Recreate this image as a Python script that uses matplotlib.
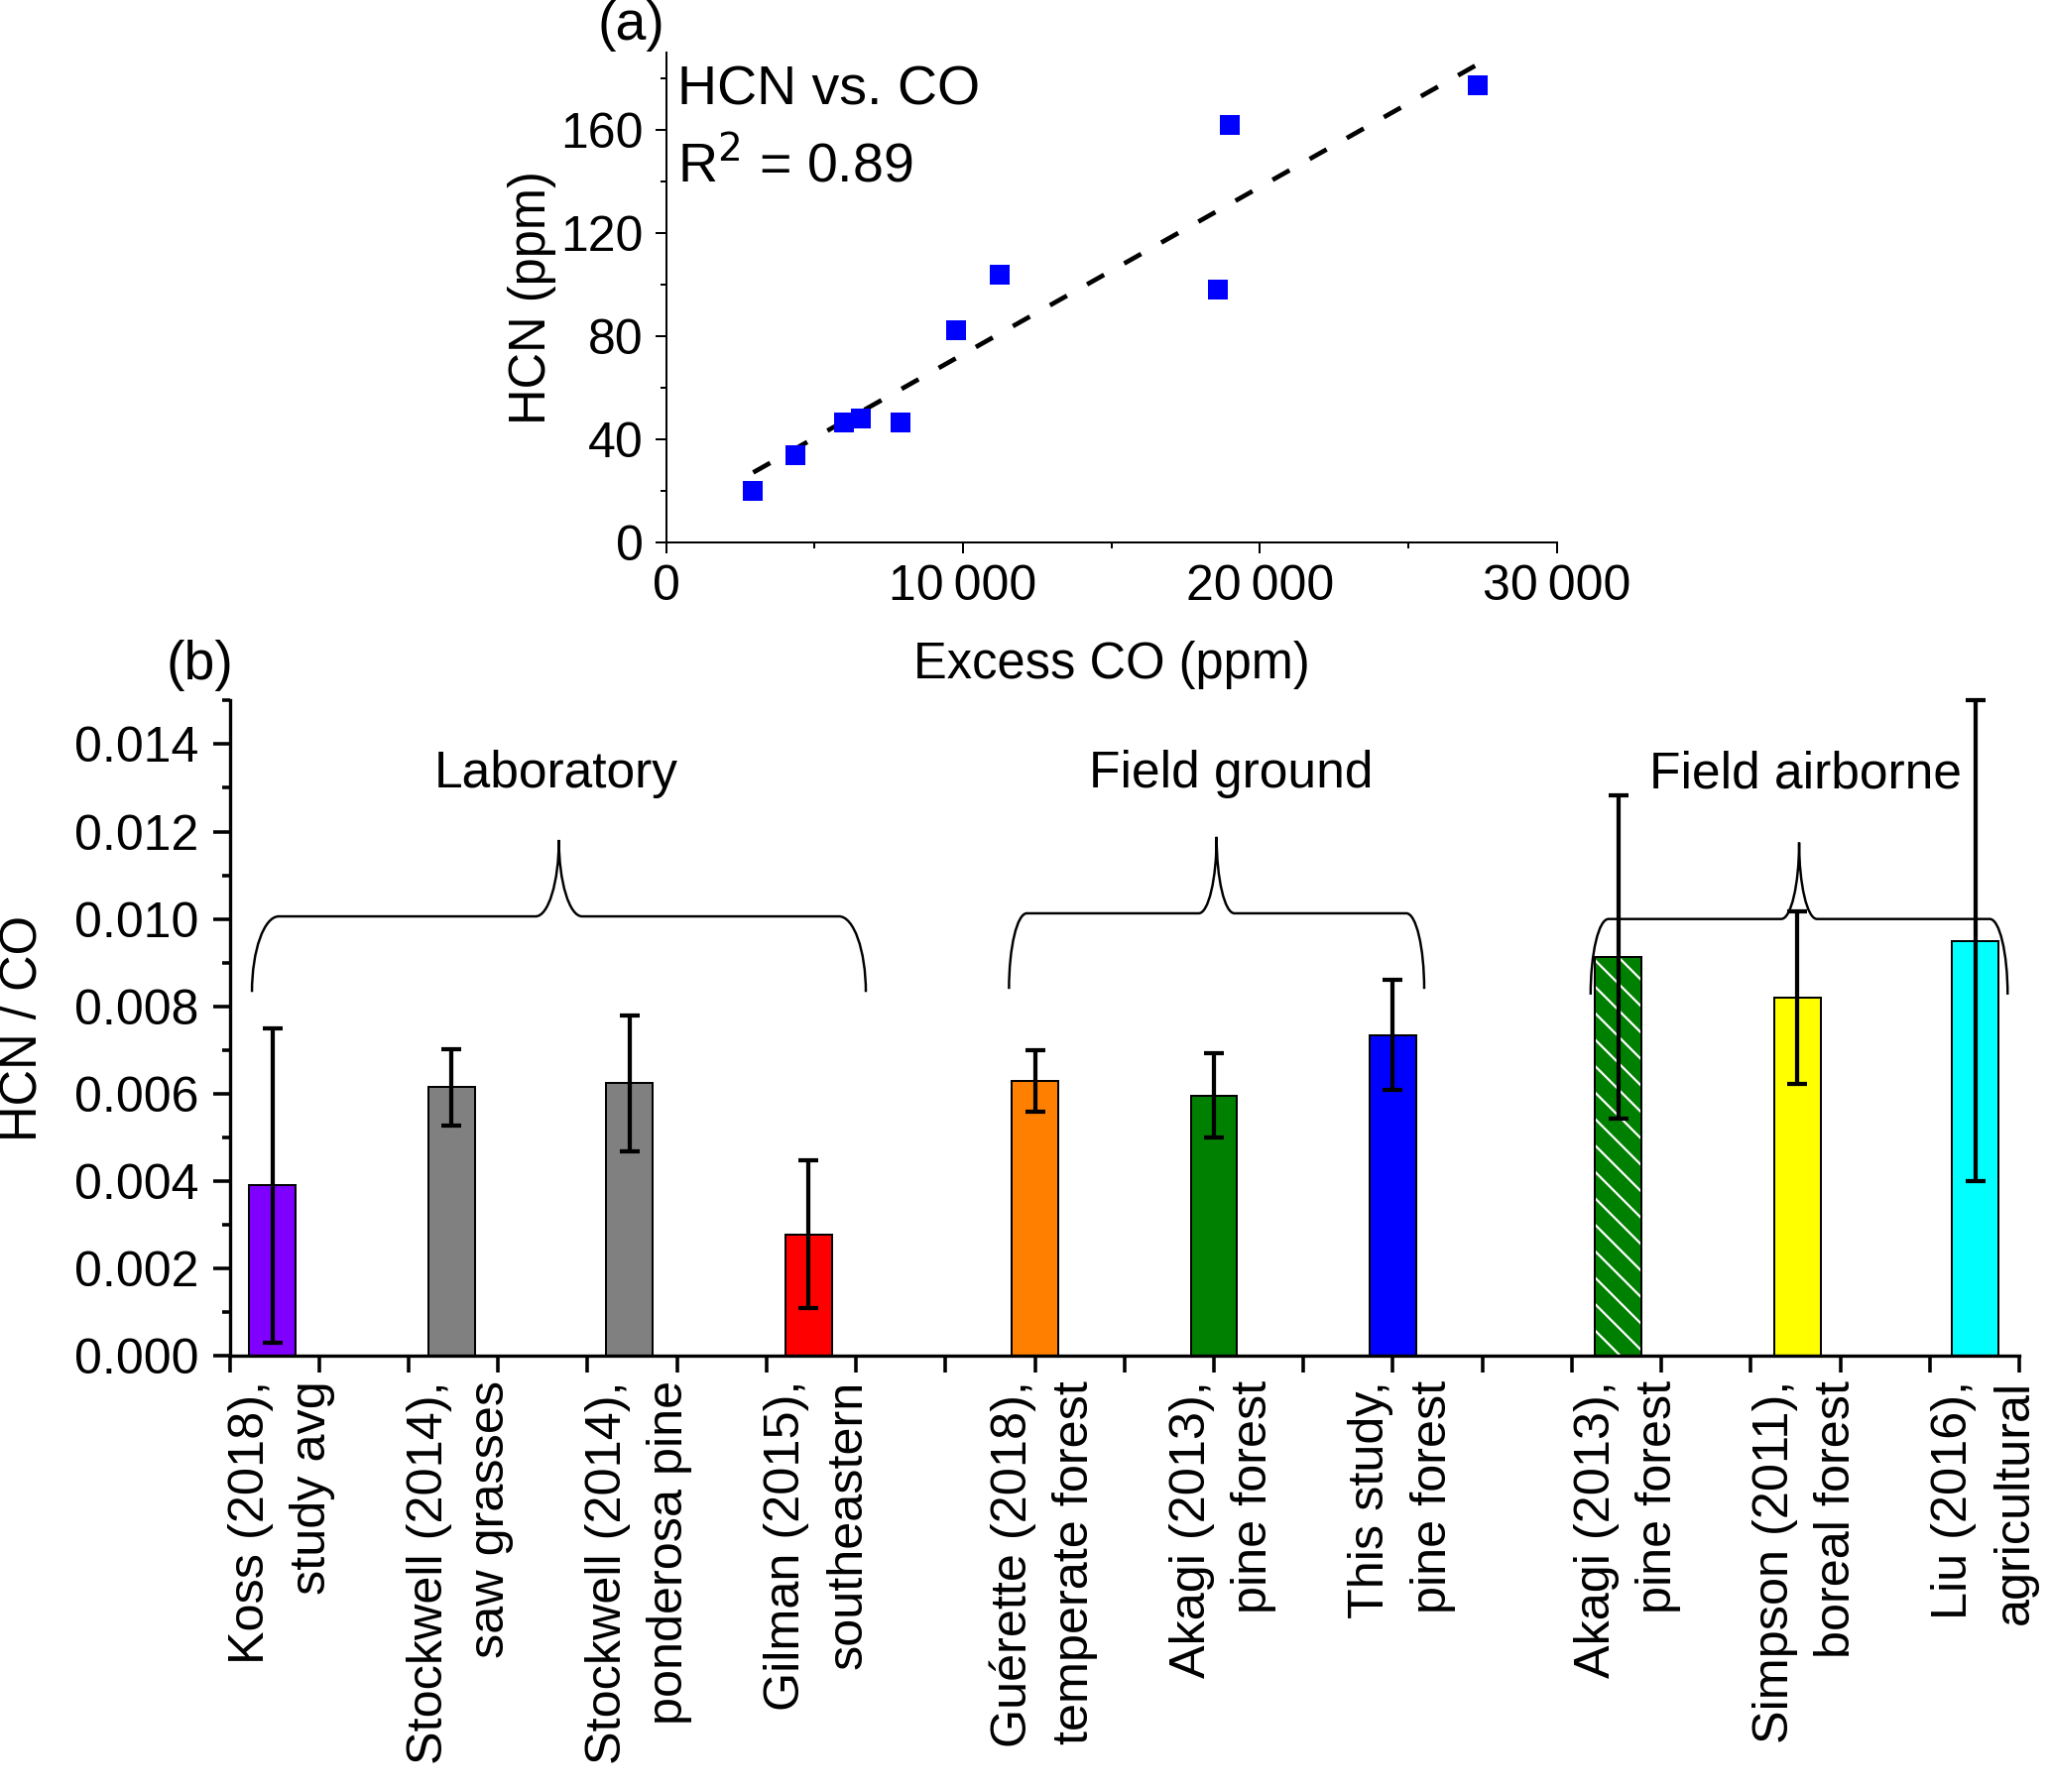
import numpy as np
import matplotlib
matplotlib.use('Agg')
import matplotlib.pyplot as plt
from matplotlib.path import Path
from matplotlib.patches import PathPatch
from matplotlib.ticker import MultipleLocator, FuncFormatter

plt.rcParams['font.family'] = ['Liberation Sans', 'DejaVu Sans']

# ---------------- data: panel (a) ----------------
co_excess = [2930, 4354, 5991, 6571, 7896, 9755, 11232, 18568, 18975, 27329]
hcn_ppm = [20.0, 33.9, 46.4, 48.1, 46.4, 82.1, 103.7, 97.9, 161.9, 177.5]
fit_title = "HCN vs. CO"
r2_label = "R$^2$ = 0.89"

# ---------------- data: panel (b) ----------------
study_labels = [
    "Koss (2018),\nstudy avg",
    "Stockwell (2014),\nsaw grasses",
    "Stockwell (2014),\nponderosa pine",
    "Gilman (2015),\nsoutheastern",
    "Guérette (2018),\ntemperate forest",
    "Akagi (2013),\npine forest",
    "This study,\npine forest",
    "Akagi (2013),\npine forest",
    "Simpson (2011),\nboreal forest",
    "Liu (2016),\nagricultural",
]
ratios = [0.0039, 0.00615, 0.00624, 0.00278, 0.0063, 0.00596, 0.00734, 0.00913, 0.0082, 0.0095]
ratio_err = [0.0036, 0.00088, 0.00156, 0.00169, 0.0007, 0.00097, 0.00126, 0.0037, 0.00198, 0.0055]
bar_pos = [0.48, 2.48, 4.47, 6.47, 9.0, 11.0, 13.0, 15.52, 17.52, 19.51]
bar_colors = ['#8000FF', '#808080', '#808080', '#FF0000', '#FF8000',
              '#008000', '#0000FF', '#008000', '#FFFF00', '#00FFFF']
bar_hatched = [False, False, False, False, False, False, False, True, False, False]

group_names = ["Laboratory", "Field ground", "Field airborne"]
group_text_x = [3.65, 11.19, 17.61]
# brace specs: centre, half width, line level
brace_center = [3.68, 11.03, 17.54]
brace_halfw = [3.43, 2.32, 2.33]
brace_level = [0.01006, 0.01013, 0.01000]

DPI = 160
fig = plt.figure(figsize=(2067 / DPI, 1807 / DPI), dpi=DPI)

# ================= panel (a) =================
axa = fig.add_axes([0.325, 0.6975, 0.7594 - 0.325, 0.9705 - 0.6975])
axa.plot(co_excess, hcn_ppm, 's', color='#0000FF', markersize=8.6,
         markeredgewidth=0, zorder=3, clip_on=False)
slope, intercept = np.polyfit(co_excess, hcn_ppm, 1)
xfit = np.array([min(co_excess), max(co_excess)])
axa.plot(xfit, slope * xfit + intercept, color='black', lw=2.1,
         linestyle=(0, (4.2, 5.0)), zorder=2)
axa.set_xlim(0, 30000)
axa.set_ylim(0, 190)
for s in ['top', 'right']:
    axa.spines[s].set_visible(False)
for s in ['left', 'bottom']:
    axa.spines[s].set_linewidth(0.9)
axa.xaxis.set_major_locator(MultipleLocator(10000))
axa.xaxis.set_minor_locator(MultipleLocator(5000))
axa.yaxis.set_major_locator(MultipleLocator(40))
axa.yaxis.set_minor_locator(MultipleLocator(20))
axa.xaxis.set_major_formatter(FuncFormatter(
    lambda v, p: '0' if v == 0 else f"{int(round(v)):,}".replace(',', '\u2009')))
axa.tick_params(axis='both', which='major', direction='out', length=4.8,
                width=0.9, labelsize=22.5)
axa.tick_params(axis='both', which='minor', direction='out', length=2.7, width=0.9)
axa.tick_params(axis='x', which='major', pad=5.3)
axa.tick_params(axis='y', which='major', pad=5.7)
axa.set_xlabel("Excess CO (ppm)", fontsize=22.8)
axa.xaxis.set_label_coords(0.5, -0.2503)
axa.xaxis.label.set_va('center')
axa.set_ylabel("HCN (ppm)", fontsize=22.8)
axa.yaxis.set_label_coords(-0.151, 0.5)
axa.yaxis.label.set_va('center')
axa.text(0.013, 0.895, fit_title, transform=axa.transAxes, fontsize=25,
         ha='left', va='baseline')
axa.text(0.013, 0.7365, r2_label, transform=axa.transAxes, fontsize=25,
         ha='left', va='baseline')
fig.text(0.3077, 0.9856, "(a)", fontsize=25, ha='center', va='center')

# ================= panel (b) =================
axb = fig.add_axes([0.112, 0.2433, 0.985 - 0.112, 0.6091 - 0.2433])
for x, v, c, h in zip(bar_pos, ratios, bar_colors, bar_hatched):
    if h:
        axb.bar(x, v, width=0.52, color=c, edgecolor='white', hatch='\\\\',
                linewidth=0, zorder=2)
        axb.bar(x, v, width=0.52, fill=False, edgecolor='black', linewidth=0.9,
                zorder=2.1)
    else:
        axb.bar(x, v, width=0.52, color=c, edgecolor='black', linewidth=0.9,
                zorder=2)
axb.errorbar(bar_pos, ratios, yerr=ratio_err, fmt='none', ecolor='black',
             elinewidth=1.9, capsize=4.7, capthick=1.9, zorder=3, clip_on=False)

axb.set_xlim(0, 20)
axb.set_ylim(0, 0.015)
for s in ['top', 'right']:
    axb.spines[s].set_visible(False)
for s in ['left', 'bottom']:
    axb.spines[s].set_linewidth(1.5)
axb.xaxis.set_major_locator(MultipleLocator(1))
axb.xaxis.set_major_formatter(FuncFormatter(lambda v, p: ''))
axb.yaxis.set_major_locator(MultipleLocator(0.002))
axb.yaxis.set_minor_locator(MultipleLocator(0.001))
axb.yaxis.set_major_formatter(FuncFormatter(lambda v, p: f"{v:.3f}"))
axb.tick_params(axis='both', which='major', direction='out', length=7.7,
                width=1.6, labelsize=22.5)
axb.tick_params(axis='y', which='major', pad=6.3)
axb.tick_params(axis='y', which='minor', direction='out', length=3.8, width=1.6)
axb.set_ylabel("HCN / CO", fontsize=22.8)
axb.yaxis.set_label_coords(-0.1155, 0.5)
axb.yaxis.label.set_va('center')

trans = axb.get_xaxis_transform()
for x, lab in zip(bar_pos, study_labels):
    axb.text(x + 0.1, -0.0374, lab, transform=trans, rotation=90,
             ha='center', va='top', multialignment='right', fontsize=22.7,
             linespacing=1.45)

for name, gx in zip(group_names, group_text_x):
    axb.text(gx, 0.0130, name, fontsize=23.2, ha='center', va='baseline')


def brace(xc, hw, y, drop=0.00173, rise=0.00175, corner=0.25, cusp=0.22):
    x0, x1 = xc - hw, xc + hw
    k = 0.55
    verts = [
        (x0, y - drop),
        (x0, y - drop + k * drop), (x0 + (1 - k) * corner, y), (x0 + corner, y),
        (xc - cusp, y),
        (xc - cusp + k * cusp, y), (xc, y + (1 - k) * rise), (xc, y + rise),
        (xc, y + (1 - k) * rise), (xc + cusp - k * cusp, y), (xc + cusp, y),
        (x1 - corner, y),
        (x1 - (1 - k) * corner, y), (x1, y - drop + k * drop), (x1, y - drop),
    ]
    codes = [Path.MOVETO,
             Path.CURVE4, Path.CURVE4, Path.CURVE4,
             Path.LINETO,
             Path.CURVE4, Path.CURVE4, Path.CURVE4,
             Path.CURVE4, Path.CURVE4, Path.CURVE4,
             Path.LINETO,
             Path.CURVE4, Path.CURVE4, Path.CURVE4]
    return Path(verts, codes)


for i, (bc, bw, bl) in enumerate(zip(brace_center, brace_halfw, brace_level)):
    corner = 0.3 if i == 0 else 0.2
    cusp = 0.26 if i == 0 else 0.2
    axb.add_patch(PathPatch(brace(bc, bw, bl, corner=corner, cusp=cusp),
                            fill=False, edgecolor='black', lw=1.1, zorder=4))

fig.text(0.0975, 0.6284, "(b)", fontsize=25, ha='center', va='center')

fig.savefig('out.png', dpi=DPI)
